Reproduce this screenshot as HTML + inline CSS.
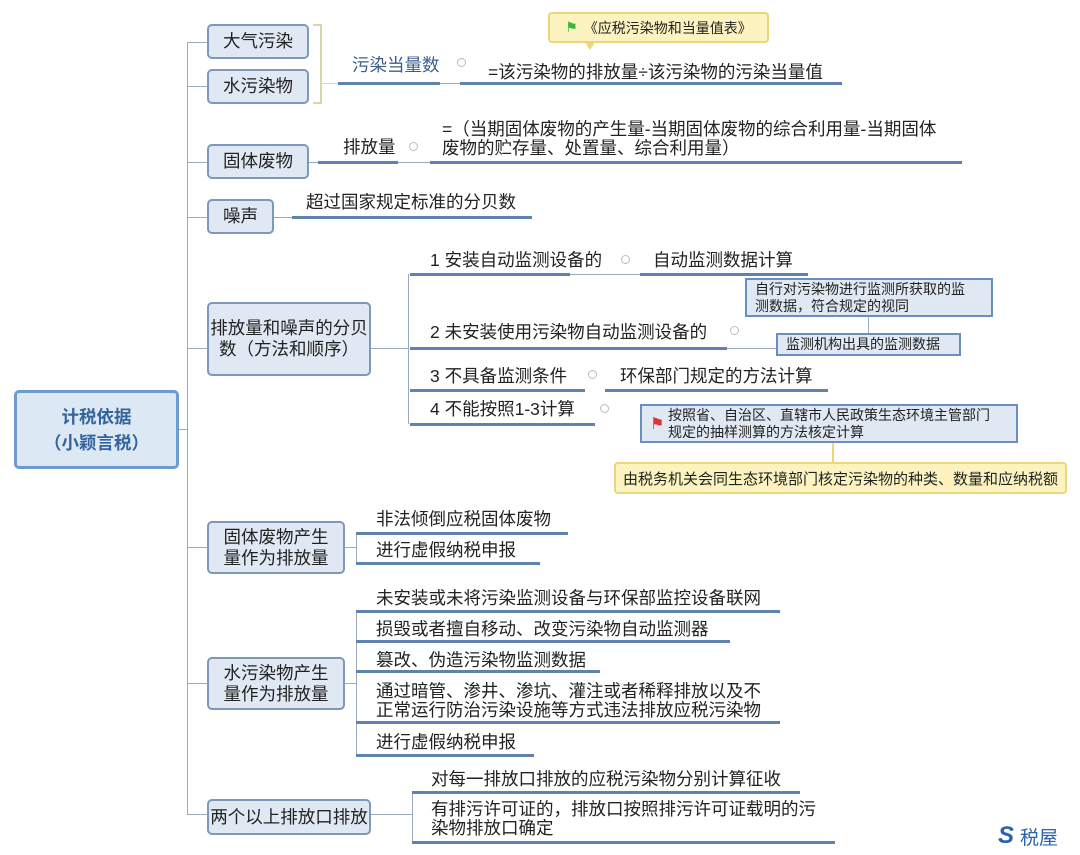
<!DOCTYPE html>
<html><head><meta charset="utf-8"><style>
body{margin:0;width:1080px;height:855px;background:#fff;position:relative;overflow:hidden;font-family:"Liberation Sans","Noto Sans CJK SC",sans-serif;color:#222}
.a{position:absolute}
.box{position:absolute;background:#dfe8f3;border:2px solid #7d98bb;border-radius:5px;box-sizing:border-box;display:flex;align-items:center;justify-content:center;text-align:center;font-size:17.5px;line-height:21px;color:#222}
.t{position:absolute;font-size:17.5px;line-height:20px;white-space:nowrap}
.u{position:absolute;height:3px;background:#5f83ad}
.v{position:absolute;width:1px;background:#9aaabb}
.h{position:absolute;height:1px;background:#9aaabb}
.c{position:absolute;width:7px;height:7px;border:1px solid #bbb;border-radius:50%}
.sb{position:absolute;background:#dfe8f3;border:2px solid #6a8fbf;box-sizing:border-box;font-size:14px;line-height:17px;padding:1px 8px}
.y{position:absolute;background:#fdf3c0;border:2px solid #ecd67a;border-radius:4px;box-sizing:border-box;font-size:14px;display:flex;align-items:center;justify-content:center}
</style></head><body>
<div class="box" style="left:14px;top:390px;width:165px;height:79px;border:3px solid #6c9bd2;color:#33649c;font-size:17.5px;line-height:26px;background:#dde8f5;font-weight:bold">计税依据<br>（小颖言税）</div>
<div class="h" style="left:179px;top:429px;width:8px"></div>
<div class="v" style="left:187px;top:42px;height:772px"></div>
<div class="h" style="left:187px;top:42px;width:20px"></div>
<div class="h" style="left:187px;top:86px;width:20px"></div>
<div class="h" style="left:187px;top:162px;width:20px"></div>
<div class="h" style="left:187px;top:217px;width:20px"></div>
<div class="h" style="left:187px;top:348px;width:20px"></div>
<div class="h" style="left:187px;top:547px;width:20px"></div>
<div class="h" style="left:187px;top:683px;width:20px"></div>
<div class="h" style="left:187px;top:814px;width:20px"></div>

<div class="box" style="left:207px;top:24px;width:102px;height:35px">大气污染</div>
<div class="box" style="left:207px;top:69px;width:102px;height:35px">水污染物</div>
<div class="box" style="left:207px;top:144px;width:102px;height:35px">固体废物</div>
<div class="box" style="left:207px;top:199px;width:67px;height:35px">噪声</div>
<div class="box" style="left:207px;top:302px;width:164px;height:74px">排放量和噪声的分贝<br>数（方法和顺序）</div>
<div class="box" style="left:207px;top:521px;width:138px;height:53px">固体废物产生<br>量作为排放量</div>
<div class="box" style="left:207px;top:657px;width:138px;height:53px">水污染物产生<br>量作为排放量</div>
<div class="box" style="left:207px;top:799px;width:164px;height:36px">两个以上排放口排放</div>

<div class="a" style="left:313px;top:24px;width:9px;height:80px;border:2px solid #d9d6a8;border-left:none;box-sizing:border-box"></div>
<div class="h" style="left:322px;top:83px;width:16px;background:#d9d6a8"></div>
<div class="t" style="left:352px;top:55px;color:#3a5f8a">污染当量数</div>
<div class="u" style="left:338px;top:82px;width:102px"></div>
<div class="c" style="left:457px;top:58px"></div>
<div class="h" style="left:440px;top:83px;width:20px"></div>
<div class="t" style="left:488px;top:62px">=该污染物的排放量÷该污染物的污染当量值</div>
<div class="u" style="left:460px;top:82px;width:382px"></div>
<div class="y" style="left:548px;top:12px;width:221px;height:31px"><span style="color:#3bb53b;margin-right:6px">⚑</span>《应税污染物和当量值表》</div>
<div class="a" style="left:585px;top:42px;width:0;height:0;border-left:5px solid transparent;border-right:5px solid transparent;border-top:8px solid #ecd67a"></div>

<div class="t" style="left:343px;top:137px">排放量</div>
<div class="u" style="left:318px;top:161px;width:80px"></div>
<div class="c" style="left:409px;top:142px"></div>
<div class="h" style="left:398px;top:162px;width:32px"></div>
<div class="t" style="left:442px;top:120px;line-height:19px">=（当期固体废物的产生量-当期固体废物的综合利用量-当期固体<br>废物的贮存量、处置量、综合利用量）</div>
<div class="u" style="left:430px;top:161px;width:532px"></div>
<div class="h" style="left:309px;top:162px;width:9px"></div>

<div class="t" style="left:306px;top:192px">超过国家规定标准的分贝数</div>
<div class="u" style="left:292px;top:216px;width:240px"></div>
<div class="h" style="left:274px;top:217px;width:18px"></div>

<div class="h" style="left:371px;top:348px;width:37px"></div>
<div class="v" style="left:408px;top:274px;height:150px"></div>
<div class="t" style="left:430px;top:250px">1 安装自动监测设备的</div>
<div class="u" style="left:410px;top:273px;width:160px"></div>
<div class="c" style="left:621px;top:255px"></div>
<div class="t" style="left:653px;top:250px">自动监测数据计算</div>
<div class="u" style="left:640px;top:273px;width:168px"></div>
<div class="h" style="left:570px;top:274px;width:70px"></div>

<div class="t" style="left:430px;top:322px">2 未安装使用污染物自动监测设备的</div>
<div class="u" style="left:410px;top:347px;width:317px"></div>
<div class="c" style="left:730px;top:326px"></div>
<div class="h" style="left:727px;top:348px;width:49px"></div>
<div class="sb" style="left:745px;top:278px;width:248px;height:39px">自行对污染物进行监测所获取的监<br>测数据，符合规定的视同</div>
<div class="v" style="left:868px;top:317px;height:16px"></div>
<div class="sb" style="left:776px;top:333px;width:185px;height:23px;line-height:17px">监测机构出具的监测数据</div>

<div class="t" style="left:430px;top:366px">3 不具备监测条件</div>
<div class="u" style="left:410px;top:389px;width:175px"></div>
<div class="c" style="left:588px;top:370px"></div>
<div class="t" style="left:620px;top:366px">环保部门规定的方法计算</div>
<div class="u" style="left:605px;top:389px;width:223px"></div>

<div class="t" style="left:430px;top:399px">4 不能按照1-3计算</div>
<div class="u" style="left:410px;top:423px;width:185px"></div>
<div class="c" style="left:600px;top:404px"></div>
<div class="sb" style="left:640px;top:404px;width:378px;height:39px;padding-left:26px">按照省、自治区、直辖市人民政策生态环境主管部门<br>规定的抽样测算的方法核定计算</div>
<div class="a" style="left:650px;top:414px;color:#d33;font-size:16px">⚑</div>
<div class="v" style="left:832px;top:443px;height:19px;background:#ecd67a;width:2px"></div>
<div class="y" style="left:614px;top:462px;width:453px;height:32px;font-size:15px">由税务机关会同生态环境部门核定污染物的种类、数量和应纳税额</div>

<div class="h" style="left:345px;top:547px;width:11px"></div>
<div class="v" style="left:356px;top:533px;height:31px"></div>
<div class="t" style="left:376px;top:509px">非法倾倒应税固体废物</div>
<div class="u" style="left:356px;top:532px;width:212px"></div>
<div class="t" style="left:376px;top:540px">进行虚假纳税申报</div>
<div class="u" style="left:356px;top:562px;width:184px"></div>

<div class="h" style="left:345px;top:683px;width:11px"></div>
<div class="v" style="left:356px;top:611px;height:145px"></div>
<div class="t" style="left:376px;top:588px">未安装或未将污染监测设备与环保部监控设备联网</div>
<div class="u" style="left:356px;top:610px;width:424px"></div>
<div class="t" style="left:376px;top:619px">损毁或者擅自移动、改变污染物自动监测器</div>
<div class="u" style="left:356px;top:640px;width:374px"></div>
<div class="t" style="left:376px;top:650px">篡改、伪造污染物监测数据</div>
<div class="u" style="left:356px;top:670px;width:244px"></div>
<div class="t" style="left:376px;top:682px;line-height:19px">通过暗管、渗井、渗坑、灌注或者稀释排放以及不<br>正常运行防治污染设施等方式违法排放应税污染物</div>
<div class="u" style="left:356px;top:721px;width:424px"></div>
<div class="t" style="left:376px;top:732px">进行虚假纳税申报</div>
<div class="u" style="left:356px;top:754px;width:178px"></div>

<div class="h" style="left:371px;top:814px;width:41px"></div>
<div class="v" style="left:412px;top:792px;height:51px"></div>
<div class="t" style="left:431px;top:769px">对每一排放口排放的应税污染物分别计算征收</div>
<div class="u" style="left:412px;top:791px;width:388px"></div>
<div class="t" style="left:431px;top:800px;line-height:19px">有排污许可证的，排放口按照排污许可证载明的污<br>染物排放口确定</div>
<div class="u" style="left:412px;top:841px;width:423px"></div>

<div class="a" style="left:998px;top:822px;font-size:24px;font-weight:bold;color:#2a62b0;font-style:italic">S</div>
<div class="a" style="left:1020px;top:823px;font-size:19px;color:#2a62b0">税屋</div>
</body></html>
